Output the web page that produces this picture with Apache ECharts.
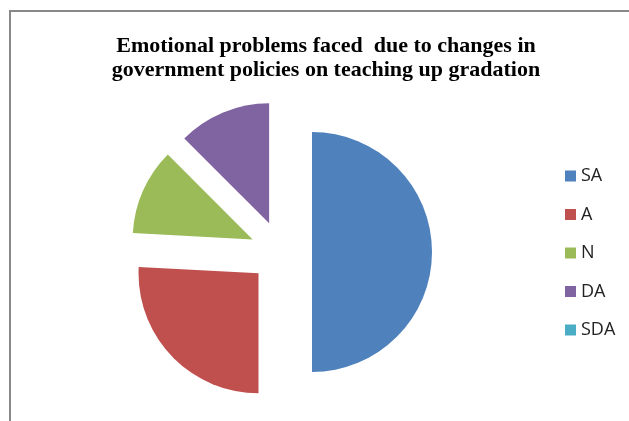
<!DOCTYPE html>
<html>
<head>
<meta charset="utf-8">
<script src="https://cdn.jsdelivr.net/npm/echarts@6/dist/echarts.min.js"></script>
<style>
  html, body { margin: 0; padding: 0; background: #fff; }
  #chart { width: 629px; height: 421px; }
</style>
</head>
<body>
<div id="chart"></div>
<script>
const categories = ["SA", "A", "N", "DA", "SDA"];
const values = [60, 31, 14, 15, 0];
const colors = ["#4F81BD", "#C0504D", "#9BBB59", "#8064A2", "#4BACC6"];
const titleText = "Emotional problems faced  due to changes in\ngovernment policies on teaching up gradation";

const myEchart = echarts.init(document.getElementById("chart"));

const pieData = categories.map((name, i) => ({
  name: name,
  value: values[i],
  selected: true,
  itemStyle: { color: colors[i] }
}));

const options = {
  animation: false,
  title: {
    text: titleText,
    left: 321,
    textAlign: "center",
    top: 29,
    textStyle: {
      fontFamily: "Liberation Serif",
      fontWeight: "bold",
      fontSize: 22,
      lineHeight: 24,
      color: "#000"
    }
  },
  legend: {
    orient: "vertical",
    left: 565,
    top: 167,
    padding: 0,
    itemWidth: 11,
    itemHeight: 11,
    itemGap: 20.5,
    icon: "rect",
    align: "left",
    selectedMode: false,
    textStyle: {
      fontFamily: "Open Sans",
      fontSize: 18,
      lineHeight: 18,
      color: "#222"
    },
    data: categories
  },
  graphic: [
    // chart frame, only top and left edges visible
    { type: "line", shape: { x1: 9, y1: 11, x2: 629, y2: 11 }, style: { stroke: "#888", lineWidth: 2 } },
    { type: "line", shape: { x1: 10, y1: 10, x2: 10, y2: 421 }, style: { stroke: "#888", lineWidth: 2 } }
  ],
  series: [
    {
      type: "pie",
      center: [281, 252],
      radius: 120,
      startAngle: 90,
      clockwise: true,
      selectedMode: "multiple",
      selectedOffset: 31,
      label: { show: false },
      labelLine: { show: false },
      emphasis: { disabled: true },
      itemStyle: { borderWidth: 0 },
      data: pieData
    }
  ]
};

myEchart.setOption(options);
</script>
</body>
</html>
